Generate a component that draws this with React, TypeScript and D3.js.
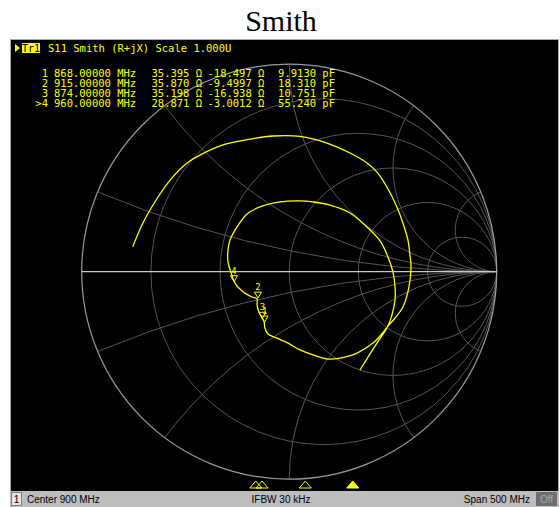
import * as d3 from "d3";

const W = 560;
const H = 507;
const CX = 289.2;
const CY = 271.7;
const RAD = 207.5;
const Z0 = 50;

const titleText = "Smith";
const traceHeader = "S11 Smith (R+jX) Scale 1.000U";

// marker table (as shown on the instrument)
const markerLabels = ["1", "2", "3", ">4"];
const markerNums = ["1", "2", "3", "4"];
const markerFreqMHz = [868, 915, 874, 960];
const markerR = [35.395, 35.87, 35.198, 28.871];
const markerX = [-18.497, -9.4997, -16.938, -3.0012];
const markerRText = ["35.395", "35.870", "35.198", "28.871"];
const markerXText = ["-18.497", "-9.4997", "-16.938", "-3.0012"];
const markerCText = ["9.9130", "18.310", "10.751", "55.240"];
const activeMarker = 3;

// graticule
const resistanceCircles = [0.2, 0.5, 1, 2, 5];
const reactanceArcs = [0.2, 0.5, 1, 2, 5];

// sweep
const startMHz = 650;
const stopMHz = 1150;
const statusCenter = "Center 900 MHz";
const statusIfbw = "IFBW 30 kHz";
const statusSpan = "Span 500 MHz";

// S11 trace, reflection coefficient (re, im), 650 -> 1150 MHz
const traceGamma: [number, number][] = [
  [-0.754, 0.12], [-0.705, 0.235], [-0.632, 0.36], [-0.565, 0.452], [-0.492, 0.524],
  [-0.43, 0.562], [-0.319, 0.611], [-0.189, 0.639], [-0.078, 0.654], [0.052, 0.652],
  [0.182, 0.62], [0.293, 0.572], [0.375, 0.524], [0.423, 0.48], [0.471, 0.408],
  [0.519, 0.312], [0.548, 0.235], [0.572, 0.153], [0.582, 0.08], [0.587, 0.023],
  [0.577, -0.074], [0.548, -0.17], [0.51, -0.223], [0.476, -0.262], [0.438, -0.31],
  [0.404, -0.344], [0.327, -0.392], [0.245, -0.416], [0.187, -0.421], [0.115, -0.401],
  [0.052, -0.377], [-0.006, -0.344], [-0.059, -0.32], [-0.102, -0.3], [-0.117, -0.271],
  [-0.121, -0.242], [-0.131, -0.223], [-0.146, -0.194], [-0.155, -0.16], [-0.155, -0.132],
  [-0.179, -0.122], [-0.208, -0.107], [-0.232, -0.088], [-0.252, -0.069], [-0.266, -0.045],
  [-0.28, -0.006], [-0.295, 0.047], [-0.295, 0.105], [-0.285, 0.153], [-0.252, 0.215],
  [-0.203, 0.278], [-0.141, 0.312], [-0.044, 0.336], [0.052, 0.341], [0.115, 0.336],
  [0.197, 0.321], [0.293, 0.283], [0.375, 0.215], [0.438, 0.148], [0.476, 0.071],
  [0.5, -0.001], [0.51, -0.074], [0.51, -0.136], [0.495, -0.209], [0.471, -0.271],
  [0.433, -0.329], [0.389, -0.397], [0.341, -0.474],
];

const YELLOW = "#ffff00";
const MONO = "'DejaVu Sans Mono', monospace";
const SANS = "'Liberation Sans', Arial, sans-serif";

function toGamma(r: number, x: number): [number, number] {
  const zr = r / Z0;
  const zi = x / Z0;
  const nr = zr - 1;
  const dr = zr + 1;
  const den = dr * dr + zi * zi;
  return [(nr * dr + zi * zi) / den, (zi * dr - nr * zi) / den];
}

export default function App() {
  const gx = d3.scaleLinear().domain([-1, 1]).range([CX - RAD, CX + RAD]);
  const gy = d3.scaleLinear().domain([-1, 1]).range([CY + RAD, CY - RAD]);
  const fx = d3.scaleLinear().domain([startMHz, stopMHz]).range([26, 553]);
  const line = d3
    .line<[number, number]>()
    .x((d) => gx(d[0]))
    .y((d) => gy(d[1]))
    .curve(d3.curveCatmullRom);

  const markerPts = markerR.map((r, i) => toGamma(r, markerX[i]));

  return (
    <svg
      width={W}
      height={H}
      style={{ position: "absolute", left: 0, top: 0, background: "#fff" }}
    >
      <defs>
        <clipPath id="unit">
          <circle cx={CX} cy={CY} r={RAD} />
        </clipPath>
      </defs>

      <text
        x={281}
        y={31}
        textAnchor="middle"
        fontFamily="'Liberation Serif', 'Times New Roman', serif"
        fontSize={30}
        fill="#000"
      >
        {titleText}
      </text>

      {/* instrument window */}
      <rect x={10.5} y={39.5} width={548} height={452} fill="#000" stroke="#a8a8a8" />

      {/* graticule */}
      <g fill="none" stroke="#555" strokeWidth={1}>
        {resistanceCircles.map((r) => (
          <circle key={"r" + r} cx={gx(r / (1 + r))} cy={CY} r={RAD / (1 + r)} />
        ))}
        <g clipPath="url(#unit)">
          {reactanceArcs.map((x) => (
            <g key={"x" + x}>
              <circle cx={gx(1)} cy={gy(1 / x)} r={RAD / x} />
              <circle cx={gx(1)} cy={gy(-1 / x)} r={RAD / x} />
            </g>
          ))}
        </g>
      </g>
      <circle cx={CX} cy={CY} r={RAD} fill="none" stroke="#9a9a9a" strokeWidth={1.2} />
      <line x1={gx(-1)} x2={gx(1)} y1={CY} y2={CY} stroke="#c8c8c8" strokeWidth={1.2} />

      {/* trace */}
      <path d={line(traceGamma) ?? ""} fill="none" stroke={YELLOW} strokeWidth={1.3} />

      {/* markers on trace */}
      {markerPts.map(([re, im], i) => {
        const x = gx(re);
        const y = gy(im);
        return (
          <g key={"m" + i}>
            <path
              d={`M${x - 3.5},${y - 6}L${x + 3.5},${y - 6}L${x},${y}Z`}
              fill="none"
              stroke={YELLOW}
              strokeWidth={1}
            />
            <text x={x} y={y - 8} textAnchor="middle" fontFamily={MONO} fontSize={9} fill={YELLOW}>
              {markerNums[i]}
            </text>
          </g>
        );
      })}

      {/* header */}
      <path d="M15,44L20,48L15,52Z" fill={YELLOW} />
      <rect x={22} y={43} width={18} height={10} fill={YELLOW} />
      <text x={31} y={51.5} textAnchor="middle" fontFamily={MONO} fontSize={10} fill="#000">
        Tr1
      </text>
      <text x={48} y={52} fontFamily={MONO} fontSize={10.5} fill={YELLOW}>
        {traceHeader}
      </text>

      {/* marker readout */}
      {markerLabels.map((lab, i) => {
        const y = 76.5 + i * 10;
        return (
          <g key={"row" + i} fontFamily={MONO} fontSize={10.5} fill={YELLOW}>
            <text x={48} y={y} textAnchor="end">
              {lab}
            </text>
            <text x={54} y={y}>{`${markerFreqMHz[i].toFixed(5)} MHz`}</text>
            <text x={151.5} y={y}>{`${markerRText[i]} Ω`}</text>
            <text x={207.5} y={y}>{`${markerXText[i]} Ω`}</text>
            <text x={335} y={y} textAnchor="end">{`${markerCText[i]} pF`}</text>
          </g>
        );
      })}

      {/* stimulus markers */}
      {markerFreqMHz.map((f, i) => {
        const x = fx(f);
        return (
          <path
            key={"s" + i}
            d={`M${x - 6},488L${x + 6},488L${x},481Z`}
            fill={i === activeMarker ? YELLOW : "none"}
            stroke={YELLOW}
            strokeWidth={1}
          />
        );
      })}

      {/* status bar */}
      <rect x={10} y={491} width={549} height={16} fill="#bdbdbd" />
      <rect x={11.5} y={492.5} width={10} height={13} fill="#e4e4e4" stroke="#808080" />
      <text x={16.5} y={503} textAnchor="middle" fontFamily={SANS} fontSize={10} fill="#000">
        1
      </text>
      <text x={27} y={503} fontFamily={SANS} fontSize={10} fill="#000">
        {statusCenter}
      </text>
      <text x={281} y={503} textAnchor="middle" fontFamily={SANS} fontSize={10} fill="#000">
        {statusIfbw}
      </text>
      <text x={530} y={503} textAnchor="end" fontFamily={SANS} fontSize={10} fill="#000">
        {statusSpan}
      </text>
      <rect x={536} y={492} width={21} height={14} fill="#6e6e6e" />
      <text x={546.5} y={503} textAnchor="middle" fontFamily={SANS} fontSize={10} fill="#a8a8a8">
        Off
      </text>
    </svg>
  );
}
